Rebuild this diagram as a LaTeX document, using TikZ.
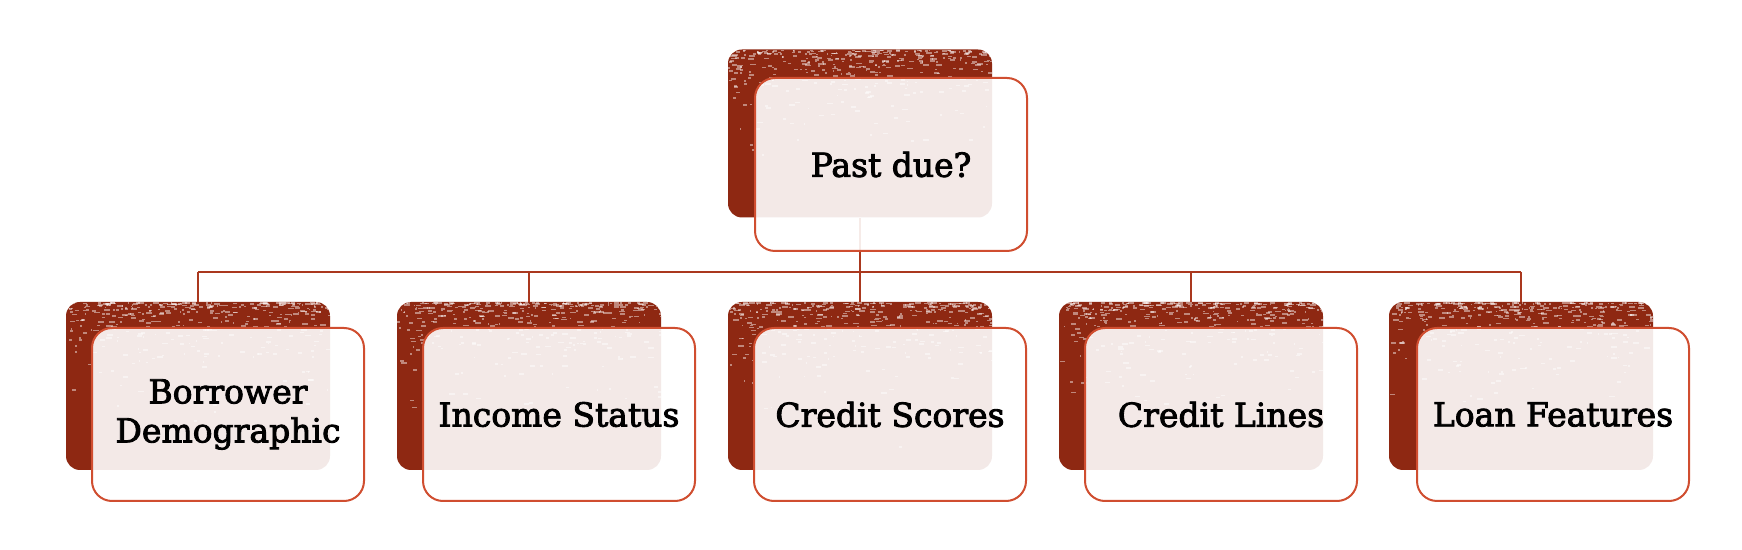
\documentclass[tikz,border=0pt]{standalone}
\usepackage{fontspec}
\setmainfont{DejaVu Serif}
\newfontfamily\boxfont{DejaVu Serif}[FakeBold=2.6]
\definecolor{backred}{RGB}{142,40,18}
\definecolor{frontline}{RGB}{208,78,48}
\definecolor{connred}{RGB}{170,56,30}
\tikzset{
  backbox/.style={rectangle, rounded corners=7pt, fill=backred, draw=none,
    minimum width=132pt, minimum height=84pt, inner sep=0pt},
  frontbox/.style={rectangle, rounded corners=10pt, draw=frontline, line width=1pt,
    fill=white, fill opacity=0.9, text opacity=1,
    minimum width=136pt, minimum height=86.5pt, align=center, inner sep=2pt,
    font=\boxfont\fontsize{16.5}{19.5}\selectfont},
  conn/.style={draw=connred, line width=1pt},
  speck/.style={fill=white, opacity=0.45}
}
\begin{document}
\begin{tikzpicture}[x=0.5pt,y=-0.5pt]
\useasboundingbox (0,0) rectangle (1742,550);
\pgfmathsetseed{7}
% back boxes
\node[backbox] (tb) at (860,133.5) {};
\foreach \i/\x in {1/198,2/529,3/860,4/1191,5/1521}{
  \node[backbox] (b\i) at (\x,386) {};
}
% grunge texture on back boxes
\foreach \cx/\cy in {860/133.5,198/386,529/386,860/386,1191/386,1521/386}{
  \begin{scope}
    \clip[rounded corners=7pt] (\cx-132,\cy-84) rectangle (\cx+132,\cy+84);
    \foreach \k in {1,...,380}{
      \pgfmathsetmacro\px{\cx-132+264*rnd}
      \pgfmathsetmacro\py{\cy-84+168*rnd*rnd*rnd}
      \pgfmathsetmacro\pw{1+5*rnd}
      \fill[speck] (\px,\py) rectangle ++(\pw,1.6);
    }
  \end{scope}
}
% connectors
\coordinate (hub) at (860,272);
\coordinate (h1) at (198,272);
\coordinate (h2) at (529,272);
\coordinate (h4) at (1191,272);
\coordinate (h5) at (1521,272);
\draw[conn] (tb.south) -- (hub);
\draw[conn] (h1) -- (h5);
\draw[conn] (h1) -- (b1.north);
\draw[conn] (h2) -- (b2.north);
\draw[conn] (hub) -- (b3.north);
\draw[conn] (h4) -- (b4.north);
\draw[conn] (h5) -- (b5.north);
% front boxes
\node[frontbox] (t) at (891,164.5) {Past due?};
\node[frontbox] (f1) at (228,414.5) {Borrower\\Demographic};
\node[frontbox] (f2) at (559,414.5) {Income Status};
\node[frontbox] (f3) at (890,414.5) {Credit Scores};
\node[frontbox] (f4) at (1221,414.5) {Credit Lines};
\node[frontbox] (f5) at (1553,414.5) {Loan Features};
\end{tikzpicture}
\end{document}
